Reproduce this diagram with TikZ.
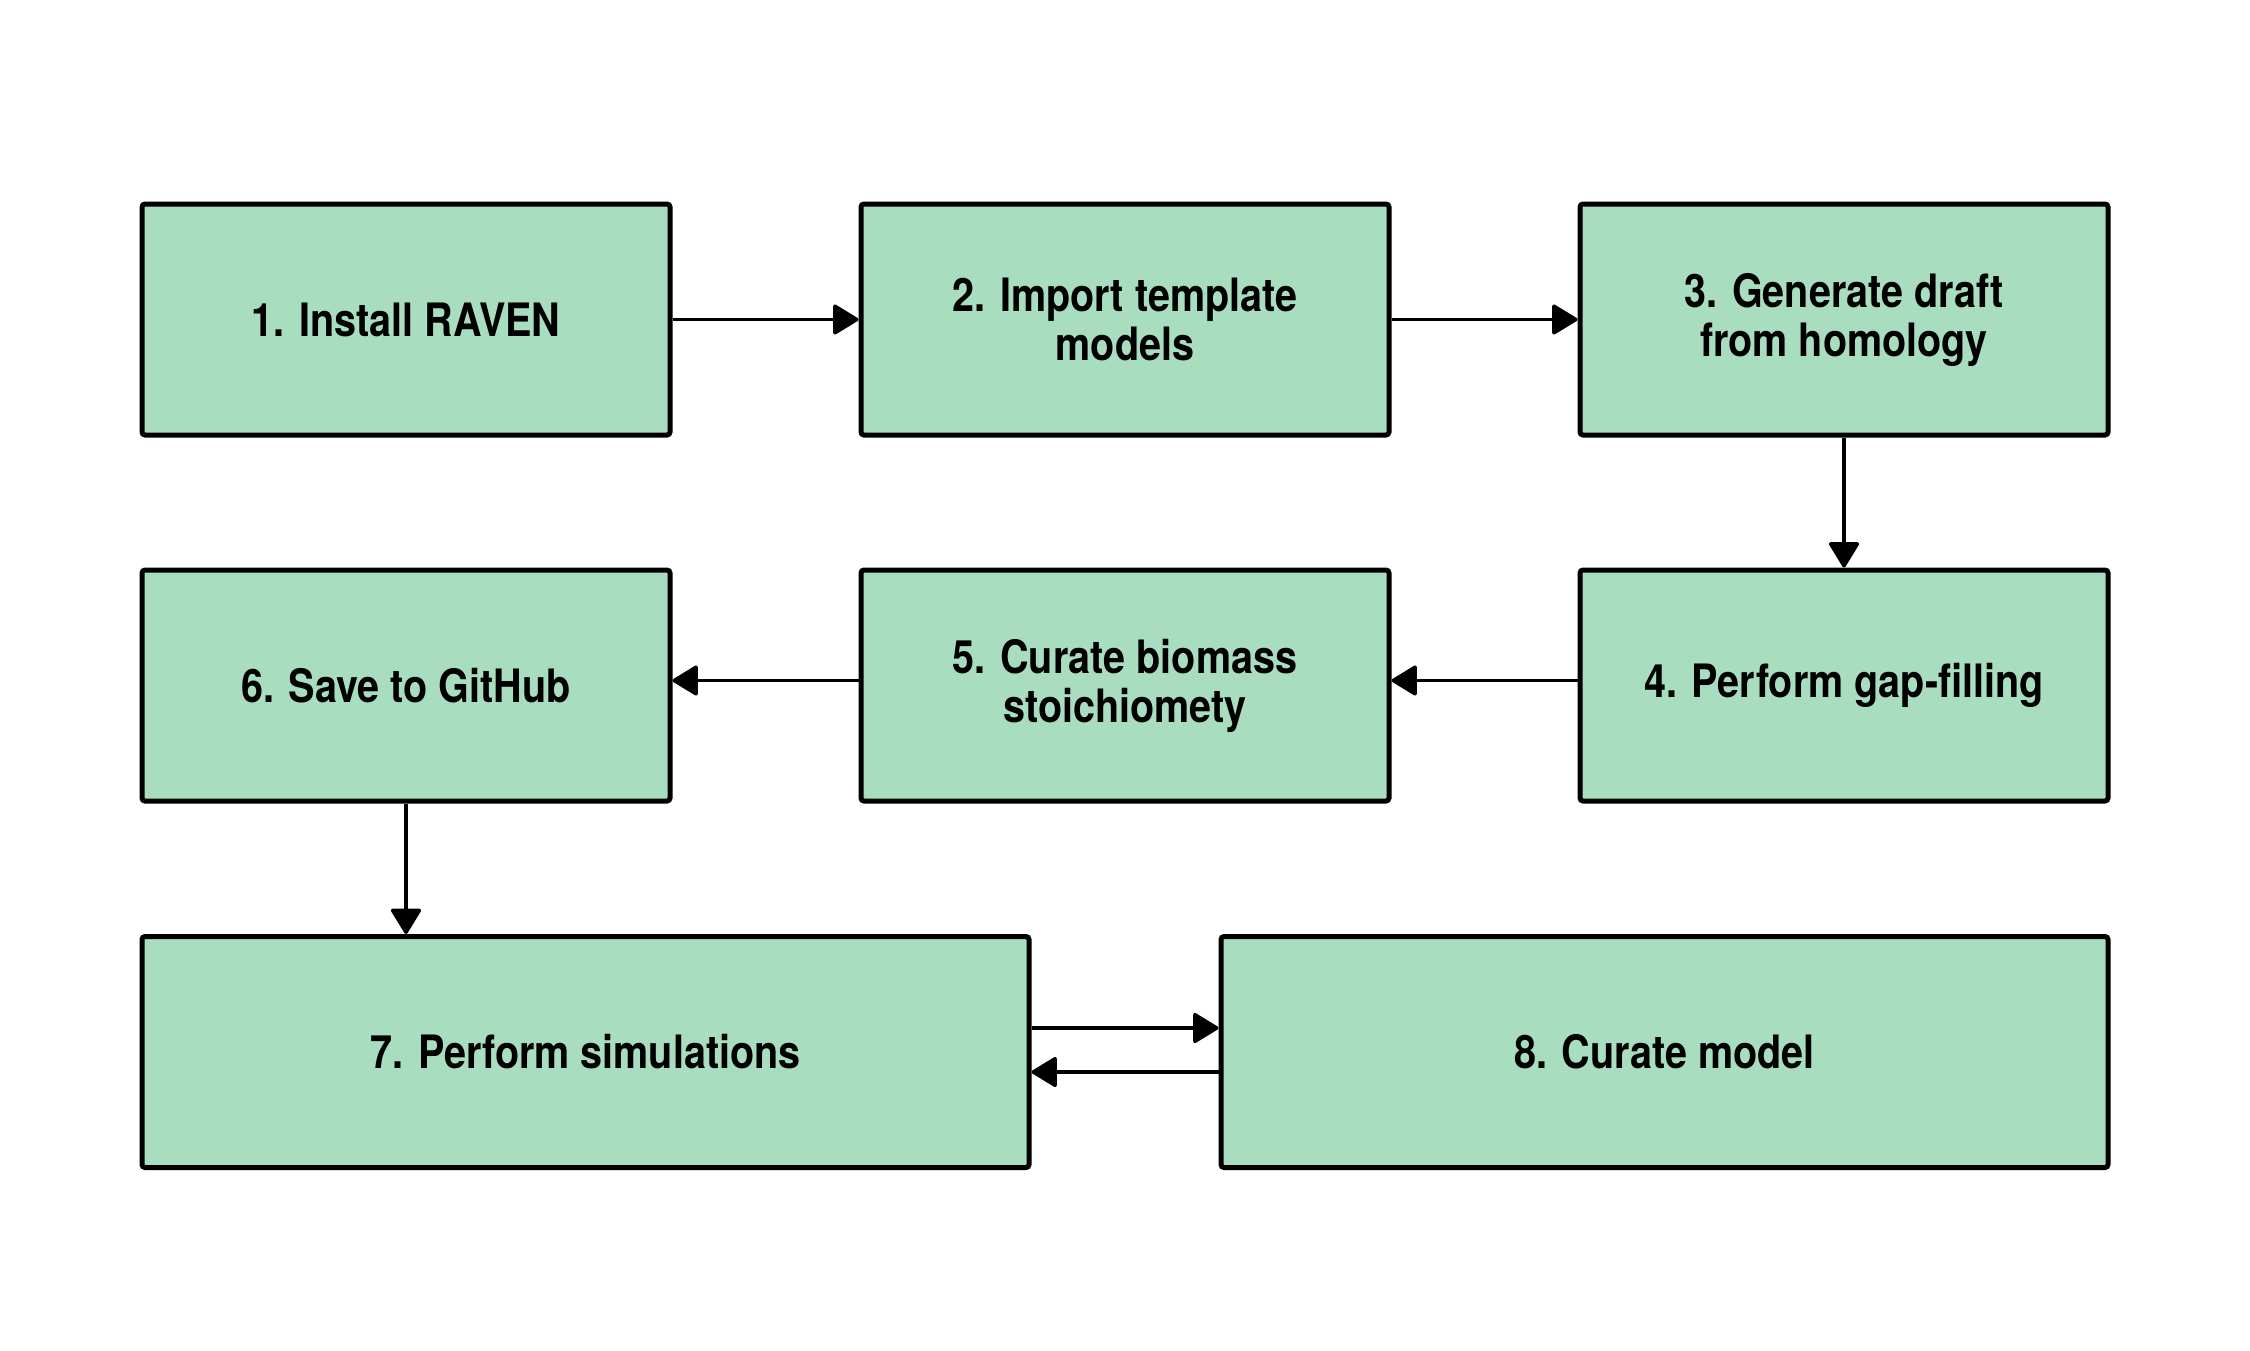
\documentclass[tikz,border=0pt]{standalone}
\usepackage{fontspec}
\setmainfont{TeX Gyre Heros}[FakeStretch=0.86]
\usetikzlibrary{arrows.meta}
\definecolor{boxgreen}{HTML}{A8DDC0}
\tikzset{
  stepbox/.style={draw=black, fill=boxgreen, line width=5pt, rounded corners=3pt,
    minimum width=528pt, minimum height=231pt, align=center, inner sep=0pt,
    font=\fontsize{46}{49}\selectfont\bfseries},
  widebox/.style={stepbox, minimum width=887pt},
  conn/.style={line width=3.5pt, -{Triangle[length=27pt,width=32pt,round]}}
}
\begin{document}
\begin{tikzpicture}[x=1pt,y=-1pt]
\useasboundingbox[fill=white] (0,0) rectangle (2250,1350);
\node[stepbox] (b1) at (406,319.5) {1. Install RAVEN};
\node[stepbox] (b2) at (1125,319.5) {2. Import template\\models};
\node[stepbox] (b3) at (1844,319.5) {3. Generate draft\\from homology};
\node[stepbox] (b4) at (1844,685.5) {4. Perform gap-filling};
\node[stepbox] (b5) at (1125,685.5) {5. Curate biomass\\stoichiomety};
\node[stepbox] (b6) at (406,685.5) {6. Save to GitHub};
\node[widebox] (b7) at (585.5,1052) {7. Perform simulations};
\node[widebox] (b8) at (1664.5,1052) {8. Curate model};
\draw[conn] (b1.east) -- (b2.west);
\draw[conn] (b2.east) -- (b3.west);
\draw[conn] (b3.south) -- (b4.north);
\draw[conn] ([yshift=5pt]b4.west) -- ([yshift=5pt]b5.east);
\draw[conn] ([yshift=5pt]b5.west) -- ([yshift=5pt]b6.east);
\draw[conn] (b6.south) -- (b7.north -| b6.south);
\draw[conn] ([yshift=24pt]b7.east) -- ([yshift=24pt]b8.west);
\draw[conn] ([yshift=-20pt]b8.west) -- ([yshift=-20pt]b7.east);
\end{tikzpicture}
\end{document}
